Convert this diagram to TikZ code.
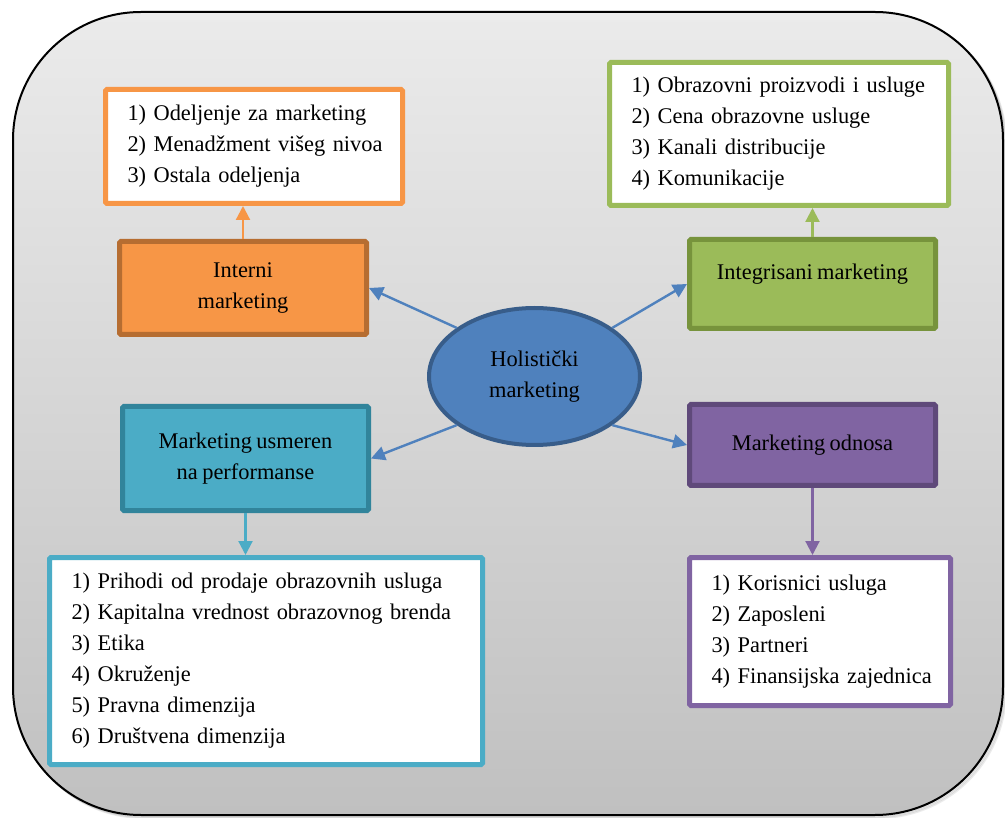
\documentclass[tikz,border=0pt]{standalone}
\usepackage{fontspec}
\setmainfont{Liberation Serif}[WordSpace=0.8]
\usetikzlibrary{arrows.meta,shapes.geometric}

\definecolor{bgTop}{HTML}{EBEBEB}
\definecolor{bgBot}{HTML}{C0C0C0}
\definecolor{hubFill}{HTML}{4F81BD}
\definecolor{hubLine}{HTML}{385D8A}
\definecolor{orFill}{HTML}{F79646}
\definecolor{orLine}{HTML}{B66D31}
\definecolor{grFill}{HTML}{9BBB59}
\definecolor{grLine}{HTML}{77933C}
\definecolor{tqFill}{HTML}{4BACC6}
\definecolor{tqLine}{HTML}{31849B}
\definecolor{puFill}{HTML}{8064A2}
\definecolor{puLine}{HTML}{5F497A}

\newcommand\oneline[1]{\mbox{#1}}

\begin{document}
\begin{tikzpicture}[x=1pt,y=-1pt,
  every node/.style={font=\fontsize{22.4}{31}\selectfont, text=black},
  hub/.style={ellipse, draw=hubLine, fill=hubFill, line width=4pt,
    minimum width=211pt, minimum height=137pt, inner sep=0pt, align=center},
  topic/.style={rectangle, line width=5pt, rounded corners=1.5pt,
    inner sep=0pt, align=center},
  listbox/.style={rectangle, fill=white, line width=5pt, rounded corners=1.5pt,
    inner xsep=22pt, inner ysep=0pt, align=left},
  tip/.style={-{Triangle[length=14pt,width=14pt]}},
  link/.style={draw=hubFill, line width=2.4pt, tip},
  drop/.style={line width=2.2pt, tip}
]
\useasboundingbox (0,0) rectangle (1005,818);

% backdrop: soft shadow, shaded rounded panel, black outline
\foreach \s in {1,2,3}
  \draw[black, opacity=0.08, line width=2pt, rounded corners=128pt]
    (13+\s,12+\s) rectangle (1003+\s,815+\s);
\shade[top color=bgTop, bottom color=bgBot, rounded corners=128pt]
  (13,12) rectangle (1003,815);
\draw[black, line width=2pt, rounded corners=128pt]
  (13,12) rectangle (1003,815);

% central idea
\node[hub] (hub) at (534.5,376.5) {Holistički\\marketing};

% four dimensions
\node[topic, draw=orLine, fill=orFill, minimum width=247pt, minimum height=93pt]
  (int) at (243,288) {Interni\\marketing};
\node[topic, draw=grLine, fill=grFill, minimum width=246pt, minimum height=89pt,
  text depth=25pt] (intg) at (812.5,284) {Integrisani marketing};
\node[topic, draw=tqLine, fill=tqFill, minimum width=246pt, minimum height=104pt]
  (usm) at (245.5,458.5) {Marketing usmeren\\na performanse};
\node[topic, draw=puLine, fill=puFill, minimum width=246pt, minimum height=81pt]
  (odn) at (812.5,445) {Marketing odnosa};

% detail lists
\node[listbox, draw=orFill, minimum width=297pt, minimum height=114pt,
  text width=253pt] (olist) at (254,146.5)
  {\oneline{1) Odeljenje za marketing}\\
   \oneline{2) Menadžment višeg nivoa}\\
   \oneline{3) Ostala odeljenja}};
\node[listbox, draw=grFill, minimum width=339pt, minimum height=143pt,
  text width=295pt] (glist) at (779,134)
  {\oneline{1) Obrazovni proizvodi i usluge}\\
   \oneline{2) Cena obrazovne usluge}\\
   \oneline{3) Kanali distribucije}\\
   \oneline{4) Komunikacije}};
\node[listbox, draw=tqFill, minimum width=433pt, minimum height=207pt,
  text width=389pt] (tlist) at (266,661)
  {\oneline{1) Prihodi od prodaje obrazovnih usluga}\\
   \oneline{2) Kapitalna vrednost obrazovnog brenda}\\
   \oneline{3) Etika}\\
   \oneline{4) Okruženje}\\
   \oneline{5) Pravna dimenzija}\\
   \oneline{6) Društvena dimenzija}};
\node[listbox, draw=puFill, minimum width=261pt, minimum height=148pt,
  text width=217pt] (plist) at (820,631.5)
  {\oneline{1) Korisnici usluga}\\
   \oneline{2) Zaposleni}\\
   \oneline{3) Partneri}\\
   \oneline{4) Finansijska zajednica}};

% connectors from the centre
\draw[link] (hub.148) -- (int.east);
\draw[link] (hub.32) -- (intg.west);
\draw[link] (hub.212) -- (usm.east);
\draw[link] (hub.328) -- (odn.west);

% connectors to the lists
\draw[drop, draw=orFill] (int.north) -- (int.north |- olist.south);
\draw[drop, draw=grFill] (intg.north) -- (intg.north |- glist.south);
\draw[drop, draw=tqFill] (usm.south) -- (usm.south |- tlist.north);
\draw[drop, draw=puFill] (odn.south) -- (odn.south |- plist.north);
\end{tikzpicture}
\end{document}
